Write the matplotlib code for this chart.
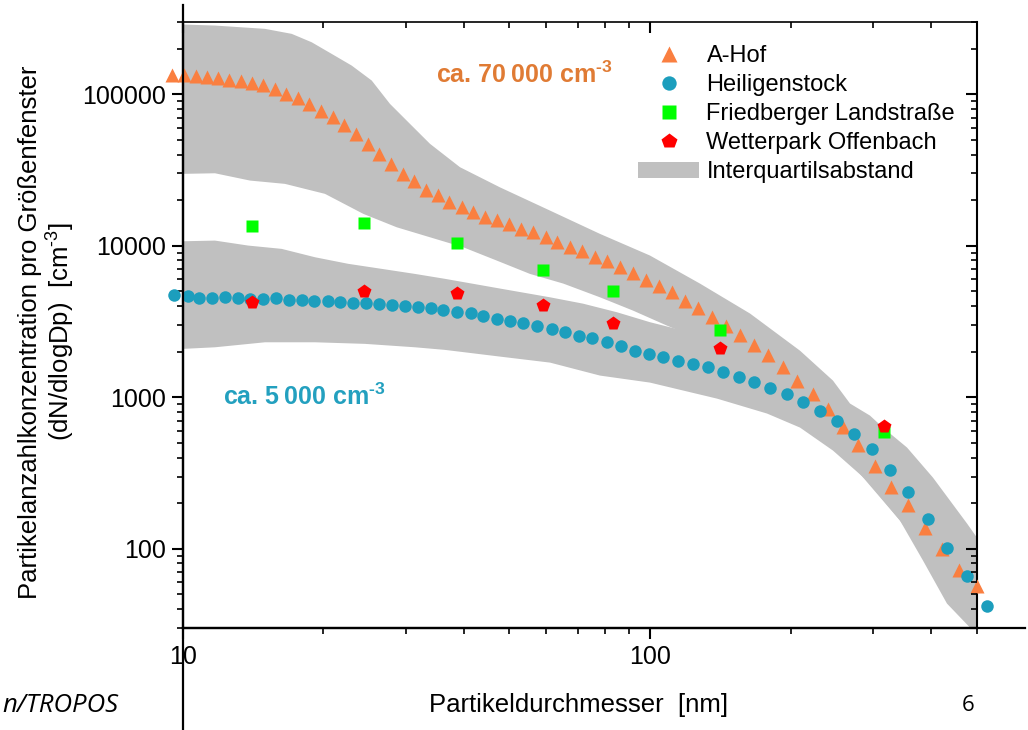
#Particle size distributions, log-log
import matplotlib
matplotlib.use('Agg')
import numpy as np
import matplotlib.pyplot as plt
import matplotlib.ticker as mticker
from matplotlib.lines import Line2D
from matplotlib.patches import Patch

plt.rcParams['font.family'] = ['Liberation Sans', 'DejaVu Sans']
plt.rcParams['mathtext.fontset'] = 'custom'
plt.rcParams['mathtext.rm'] = 'Liberation Sans'
plt.rcParams['mathtext.it'] = 'Liberation Sans:italic'
plt.rcParams['mathtext.bf'] = 'Liberation Sans:bold'

#A-Hof median (nm, cm-3)
ahof_d = [9.48, 10.08, 10.67, 11.26, 11.92, 12.59, 13.31, 14.05, 14.88, 15.76,
          16.64, 17.63, 18.67, 19.75, 21.01, 22.15, 23.46, 24.89, 26.35, 27.92,
          29.57, 31.31, 33.17, 35.14, 37.20, 39.55, 41.88, 44.36, 46.99, 49.93,
          52.89, 56.27, 59.92, 63.15, 67.43, 71.53, 76.27, 80.91, 86.27, 91.96,
          98.04, 104.5, 111.5, 118.8, 126.7, 135.7, 145.4, 155.8, 167.0, 178.9,
          192.5, 206.3, 223.2, 240.3, 258.8, 278.6, 302.9, 327.8, 356.5, 387.6,
          421.6, 458.4, 500.6]
ahof_n = [134900, 134900, 132900, 130900, 128300, 124500, 123200, 118200, 115300, 108500,
          100600, 94100, 86400, 78100, 70900, 62800, 55000, 47100, 40400, 34400,
          29800, 26900, 23400, 21500, 19400, 17950, 16640, 15580, 14830, 13950,
          12930, 12280, 11380, 10580, 9880, 9200, 8490, 7900, 7210, 6580,
          5980, 5460, 4930, 4350, 3870, 3410, 2970, 2580, 2230, 1905,
          1578, 1289, 1053, 839, 641, 485, 354, 257, 196, 137,
          100, 72.6, 57.2]

#Heiligenstock median
heil_d = [9.59, 10.25, 10.86, 11.56, 12.32, 13.12, 13.94, 14.88, 15.85, 16.89,
          17.98, 19.13, 20.44, 21.71, 23.12, 24.69, 26.33, 28.02, 29.91, 31.84,
          34.01, 36.13, 38.58, 41.33, 43.99, 46.99, 50.18, 53.57, 57.23, 61.62,
          65.78, 70.47, 75.15, 80.80, 86.57, 92.88, 99.52, 106.6, 114.8, 123.6,
          132.9, 143.3, 155.0, 167.0, 180.6, 196.1, 212.5, 231.1, 250.8, 273.3,
          298.5, 326.3, 356.5, 393.3, 431.3, 476.0, 525.4]
heil_n = [4740, 4640, 4550, 4550, 4570, 4530, 4480, 4480, 4500, 4415,
          4395, 4330, 4300, 4265, 4220, 4175, 4110, 4075, 4010, 3930,
          3890, 3775, 3640, 3585, 3425, 3305, 3210, 3110, 2960, 2830,
          2685, 2555, 2450, 2305, 2170, 2035, 1935, 1855, 1745, 1660,
          1595, 1478, 1355, 1256, 1147, 1053, 927, 817, 702, 573,
          456, 333, 238, 157.5, 101.4, 66.5, 41.7]

#Single sites
site_d = [14.1, 24.5, 38.6, 59.1, 83.5, 141, 316]
fried_n = [13590, 14080, 10450, 6970, 5010, 2800, 587]
wetter_n = [4240, 5060, 4860, 4070, 3080, 2120, 644]

#Interquartile ranges
ahof_top_d = [9.5, 10.03, 11.73, 15.01, 17.12, 18.89, 20.84, 23.00, 25.39, 27.78,
              30.65, 33.83, 39.22, 47.76, 61.11, 78.16, 100, 127.9, 163.7, 209.4,
              246.3, 267.9, 295.6, 315.1, 354.7, 403.1, 476.6, 500.6, 520]
ahof_top_n = [288500, 288500, 284100, 270200, 250400, 220400, 184800, 154700, 123200, 86400,
              63800, 47100, 33000, 24300, 17070, 11980, 8620, 5630, 3570, 2030,
              1289, 909, 757, 631, 466, 295, 147, 118.6, 100]
ahof_bot_d = [9.5, 10.03, 11.73, 13.94, 16.56, 20.17, 24.36, 28.71, 33.83, 39.86,
              46.99, 55.37, 65.23, 78.16, 91.96, 108.7, 117.6, 141.2, 189.7, 255.0,
              342.7, 438.4, 500.6, 520]
ahof_bot_n = [29830, 29830, 30100, 26940, 25620, 22010, 16240, 13250, 11380, 9775,
              7990, 6520, 5630, 4570, 3735, 2973, 2685, 2034, 1026, 445,
              153.5, 53, 33.6, 30]
heil_top_d = [9.5, 10.03, 11.73, 13.82, 16.29, 19.20, 22.62, 26.67, 31.42, 36.43,
              47.76, 61.11, 71.89, 85.01, 100, 117.6, 148.4, 209.4, 295.6, 397.2,
              500.6, 520]
heil_top_n = [10710, 10710, 10820, 10030, 9540, 8400, 7600, 7040, 6520, 6050,
              5220, 4570, 4150, 3640, 3130, 2760, 2190, 1289, 518, 179,
              83.6, 80]
heil_bot_d = [9.5, 10.03, 11.73, 15.01, 19.20, 24.56, 31.42, 36.43, 47.76, 61.11,
              78.16, 100, 139.1, 178.0, 209.4, 246.3, 291.3, 342.7, 383.8, 431.9,
              483.7, 500.6, 520]
heil_bot_n = [2087, 2087, 2138, 2307, 2307, 2252, 2138, 2055, 1856, 1694,
              1391, 1250, 980, 781, 631, 445, 282, 153.5, 83.6, 43.5,
              30.2, 23, 20]

xtick_vals = [10, 100]
xtick_labels = ['10', '100']
ytick_vals = [100, 1000, 10000, 100000]
ytick_labels = ['100', '1000', '10000', '100000']

orange = '#FA7F40'
teal = '#1C9EBD'
band = '#C0C0C0'

fig = plt.figure(figsize=(10.28, 7.3), dpi=100)
ax = fig.add_axes([0.1776, 0.1397, 0.7725, 0.8302])

#bands
ax.fill(ahof_top_d + ahof_bot_d[::-1], ahof_top_n + ahof_bot_n[::-1], color=band, lw=0, zorder=1)
ax.fill(heil_top_d + heil_bot_d[::-1], heil_top_n + heil_bot_n[::-1], color=band, lw=0, zorder=1)

#points
ax.plot(ahof_d, ahof_n, ls='none', marker='^', ms=9.5, color=orange, mec='none', clip_on=False, zorder=4)
ax.plot(heil_d, heil_n, ls='none', marker='o', ms=9, color=teal, mec='none', clip_on=False, zorder=4)
ax.plot(site_d, fried_n, ls='none', marker='s', ms=8.6, color='#00FF00', mec='none', clip_on=False, zorder=5)
ax.plot(site_d, wetter_n, ls='none', marker='p', ms=10, color='#FF0000', mec='none', clip_on=False, zorder=5)

ax.set_xscale('log')
ax.set_yscale('log')
ax.set_xlim(10, 500)
ax.set_ylim(30, 300000)

ax.set_xticks(xtick_vals)
ax.set_xticklabels(xtick_labels)
ax.set_yticks(ytick_vals)
ax.set_yticklabels(ytick_labels)
for a in (ax.xaxis, ax.yaxis):
    a.set_minor_locator(mticker.LogLocator(base=10, subs=np.arange(2, 10), numticks=30))
    a.set_minor_formatter(mticker.NullFormatter())
ax.tick_params(which='major', direction='out', length=8, width=1.5, labelsize=18, pad=4, top=False, right=False)
ax.tick_params(which='minor', direction='out', length=4.5, width=1.2, top=False, right=False)
for s in ['left', 'bottom']:
    ax.spines[s].set_linewidth(1.6)
ax.spines['top'].set_linewidth(1.2)
ax.spines['right'].set_linewidth(1.5)

#inward ticks on top and right
axt = ax.twiny()
axt.set_xscale('log')
axt.set_xlim(ax.get_xlim())
axt.set_xticks(xtick_vals)
axt.xaxis.set_minor_locator(mticker.LogLocator(base=10, subs=np.arange(2, 10), numticks=30))
axt.xaxis.set_minor_formatter(mticker.NullFormatter())
axt.tick_params(which='major', direction='in', length=8, width=1.5, labeltop=False)
axt.tick_params(which='minor', direction='in', length=4.5, width=1.2)
axr = ax.twinx()
axr.set_yscale('log')
axr.set_ylim(ax.get_ylim())
axr.set_yticks(ytick_vals)
axr.yaxis.set_minor_locator(mticker.LogLocator(base=10, subs=np.arange(2, 10), numticks=30))
axr.yaxis.set_minor_formatter(mticker.NullFormatter())
axr.tick_params(which='major', direction='in', length=8, width=1.5, labelright=False)
axr.tick_params(which='minor', direction='in', length=4.5, width=1.2)
for a in (axt, axr):
    for s in a.spines.values():
        s.set_visible(False)

#long axis lines
fig.add_artist(Line2D([0.1776, 0.1776], [0.0, 0.993], color='k', lw=1.6))
fig.add_artist(Line2D([0.1776, 0.997], [0.1397, 0.1397], color='k', lw=1.6))

#labels
fig.text(579/1028, 0.034, 'Partikeldurchmesser  [nm]', fontsize=18.5, ha='center', va='center')
fig.text(30/1028, 1 - 332/730, 'Partikelanzahlkonzentration pro Größenfenster', fontsize=18.5,
         rotation=90, ha='center', va='center')
fig.text(61/1028, 1 - 332/730, '(dN/dlogDp)  [cm$^{\u20103}$]', fontsize=18.5,
         rotation=90, ha='center', va='center')

fig.text(436/1028, 1 - 83/730, 'ca. 70\u2009000 cm$^{\\mathbf{\u20103}}$', fontsize=18, fontweight='bold',
         color='#E07B34', ha='left', va='baseline')
fig.text(223/1028, 1 - 405/730, 'ca. 5\u2009000 cm$^{\\mathbf{\u20103}}$', fontsize=18, fontweight='bold',
         color='#23A0BF', ha='left', va='baseline')

fig.text(118/1028, 0.034, 'n/TROPOS', fontsize=18.5, style='italic', family=['Open Sans', 'DejaVu Sans'],
         ha='right', va='center')
fig.text(968/1028, 0.034, '6', fontsize=16, family=['Open Sans', 'DejaVu Sans'], ha='center', va='center')

#legend
handles = [Line2D([], [], ls='none', marker='^', ms=9.5, color=orange, mec='none'),
           Line2D([], [], ls='none', marker='o', ms=9, color=teal, mec='none'),
           Line2D([], [], ls='none', marker='s', ms=8.6, color='#00FF00', mec='none'),
           Line2D([], [], ls='none', marker='p', ms=10, color='#FF0000', mec='none'),
           Patch(facecolor=band, edgecolor='none')]
labels = ['A-Hof', 'Heiligenstock', 'Friedberger Landstraße', 'Wetterpark Offenbach', 'Interquartilsabstand']
ax.legend(handles, labels, loc='upper left', bbox_to_anchor=(638/1028, 1 - 45/730),
          bbox_transform=fig.transFigure, frameon=False, fontsize=17, borderpad=0,
          borderaxespad=0, handlelength=2.6, handletextpad=0.3, labelspacing=0.3,
          markerscale=1.15)

fig.savefig('out.png', dpi=100)
